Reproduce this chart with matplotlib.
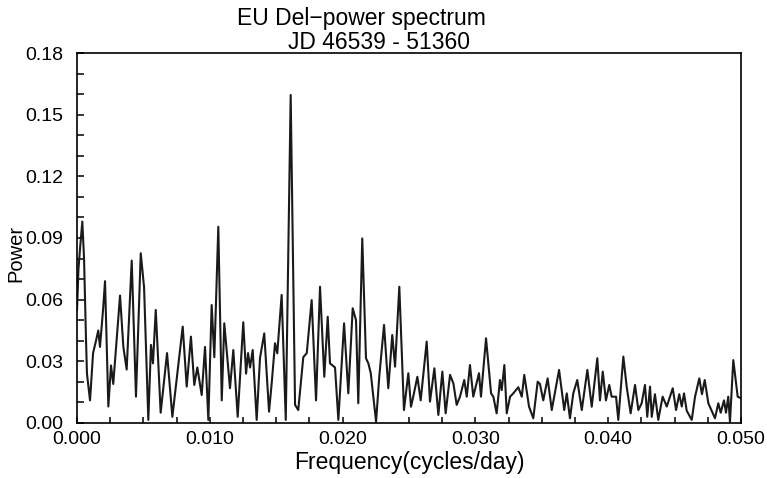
import matplotlib.pyplot as plt
from matplotlib.ticker import MultipleLocator, FormatStrFormatter

plt.rcParams['font.family'] = ['Liberation Sans', 'DejaVu Sans']

# Frequency (cycles/day) and power
freq = [
    0.0, 0.00011, 0.00023, 0.0004, 0.00053, 0.00068, 0.00075, 0.00098,
    0.00121, 0.00143, 0.0016, 0.00173, 0.00196, 0.00211, 0.00236, 0.00256,
    0.00273, 0.00324, 0.00349, 0.00374, 0.00412, 0.00444, 0.0048, 0.00505,
    0.00537, 0.00557, 0.00572, 0.00593, 0.0063, 0.00678, 0.00718, 0.00796,
    0.00826, 0.00858, 0.00883, 0.00906, 0.00939, 0.00964, 0.00989, 0.01014,
    0.01034, 0.01064, 0.0109, 0.01109, 0.01152, 0.01177, 0.0121, 0.01252,
    0.01273, 0.01288, 0.01303, 0.01323, 0.01353, 0.01378, 0.0141, 0.01446,
    0.01466, 0.01491, 0.01508, 0.01541, 0.01572, 0.01609, 0.01642, 0.01666,
    0.01704, 0.0173, 0.01767, 0.018, 0.0183, 0.01862, 0.01888, 0.01905,
    0.01943, 0.01968, 0.02011, 0.02043, 0.02076, 0.02101, 0.02118, 0.02148,
    0.02176, 0.02194, 0.02212, 0.02252, 0.02276, 0.02312, 0.02344, 0.02374,
    0.02395, 0.02427, 0.02462, 0.02495, 0.02515, 0.02532, 0.02563, 0.02588,
    0.02633, 0.02658, 0.02691, 0.02721, 0.02751, 0.02776, 0.02809, 0.02834,
    0.02859, 0.02884, 0.02916, 0.02935, 0.02959, 0.02984, 0.03027, 0.03042,
    0.0308, 0.03118, 0.03135, 0.0316, 0.03185, 0.03198, 0.03218, 0.03236,
    0.03261, 0.03285, 0.03323, 0.03349, 0.03368, 0.03404, 0.03436, 0.03469,
    0.03486, 0.03511, 0.03544, 0.03575, 0.0363, 0.03669, 0.03688, 0.03712,
    0.03737, 0.03767, 0.03801, 0.03843, 0.03876, 0.03918, 0.03938, 0.03959,
    0.03983, 0.04008, 0.04026, 0.04059, 0.04076, 0.04114, 0.04139, 0.04169,
    0.04202, 0.04227, 0.04252, 0.04277, 0.04294, 0.04315, 0.04328, 0.04352,
    0.04377, 0.0441, 0.04441, 0.04486, 0.04511, 0.04535, 0.04554, 0.04571,
    0.04591, 0.04629, 0.04654, 0.04686, 0.04706, 0.04727, 0.04754, 0.04779,
    0.04804, 0.04829, 0.04847, 0.04872, 0.04887, 0.04904, 0.04917, 0.04942,
    0.04975, 0.05,
]
power = [
    0.055, 0.075, 0.085, 0.098, 0.08, 0.04, 0.024, 0.011,
    0.034, 0.04, 0.045, 0.037, 0.055, 0.069, 0.008, 0.028,
    0.019, 0.062, 0.037, 0.026, 0.079, 0.0128, 0.0826, 0.066,
    0.0015, 0.038, 0.029, 0.055, 0.005, 0.034, 0.003, 0.0469,
    0.0177, 0.042, 0.0185, 0.027, 0.0136, 0.037, 0.0015, 0.0574,
    0.032, 0.0955, 0.011, 0.0485, 0.0169, 0.0355, 0.003, 0.049,
    0.024, 0.034, 0.027, 0.0355, 0.0015, 0.0316, 0.0436, 0.0055,
    0.0193, 0.0388, 0.0339, 0.0623, 0.0015, 0.1596, 0.0088, 0.0063,
    0.032, 0.034, 0.0598, 0.011, 0.0663, 0.0225, 0.0517, 0.029,
    0.027, 0.0015, 0.0485, 0.0144, 0.0558, 0.05, 0.0096, 0.0898,
    0.0315, 0.029, 0.0242, 0.0006, 0.0225, 0.0477, 0.0169, 0.0428,
    0.0274, 0.0663, 0.0063, 0.0242, 0.0079, 0.0128, 0.0225, 0.011,
    0.0396, 0.0104, 0.0266, 0.0039, 0.025, 0.0047, 0.0234, 0.0193,
    0.0088, 0.0128, 0.0209, 0.0128, 0.0282, 0.0128, 0.0242, 0.0128,
    0.0412, 0.0144, 0.0128, 0.0047, 0.0209, 0.016, 0.0282, 0.0047,
    0.0128, 0.0144, 0.0174, 0.0128, 0.0234, 0.0079, 0.0023, 0.0201,
    0.019, 0.011, 0.0217, 0.0063, 0.0258, 0.0063, 0.0144, 0.0023,
    0.0144, 0.0209, 0.0063, 0.0258, 0.0079, 0.0315, 0.011, 0.025,
    0.011, 0.0185, 0.0128, 0.0128, 0.0015, 0.0323, 0.0177, 0.0047,
    0.0185, 0.0063, 0.0096, 0.0185, 0.003, 0.0177, 0.003, 0.014,
    0.0015, 0.0128, 0.008, 0.0169, 0.0063, 0.014, 0.008, 0.0144,
    0.006, 0.0015, 0.0128, 0.0217, 0.014, 0.0209, 0.0096, 0.006,
    0.0023, 0.0096, 0.005, 0.011, 0.005, 0.0128, 0.0006, 0.0306,
    0.0128, 0.012,
]

fig = plt.figure(figsize=(7.67, 4.78), dpi=100)
ax = fig.add_axes([0.1004, 0.1151, 0.8657, 0.774])

ax.plot(freq, power, color='#1a1a1a', linewidth=1.5)

ax.set_xlim(0, 0.05)
ax.set_ylim(0, 0.18)
ax.xaxis.set_major_locator(MultipleLocator(0.01))
ax.xaxis.set_minor_locator(MultipleLocator(0.0025))
ax.yaxis.set_major_locator(MultipleLocator(0.03))
ax.yaxis.set_minor_locator(MultipleLocator(0.01))
ax.xaxis.set_major_formatter(FormatStrFormatter('%.3f'))
ax.yaxis.set_major_formatter(FormatStrFormatter('%.2f'))

ax.tick_params(axis='x', which='both', direction='in', length=4, width=1.1,
               labelsize=14, pad=6)
ax.tick_params(axis='y', which='both', direction='in', length=5, width=1.1,
               labelsize=14, pad=10)
for s in ax.spines.values():
    s.set_linewidth(1.2)

ax.set_xlabel('Frequency(cycles/day)', fontsize=16.5, labelpad=2)
fig.text(0.008, 0.47, 'Power', rotation=90, fontsize=14.5,
         ha='left', va='center')

fig.text(0.4707, 0.9477, 'EU Del\u2212power spectrum', fontsize=16.5,
         ha='center', va='baseline')
fig.text(0.4941, 0.8975, 'JD 46539 - 51360', fontsize=16.5,
         ha='center', va='baseline')

fig.savefig('out.png', dpi=100)
